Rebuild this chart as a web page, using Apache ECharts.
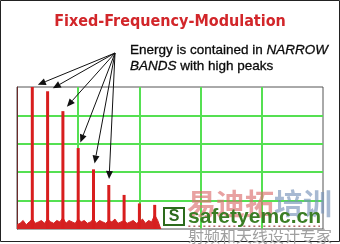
<!DOCTYPE html>
<html><head><meta charset="utf-8">
<script src="https://cdn.jsdelivr.net/npm/echarts@6/dist/echarts.min.js"></script>
<style>html,body{margin:0;padding:0;background:#fff}#c{width:340px;height:244px}</style>
</head><body><div id="c"></div>
<script>
// ---- data ----
const titleText = 'Fixed-Frequency-Modulation';
const noteLine1 = 'Energy is contained in {i|NARROW}';
const noteLine2 = '{i|BANDS} with high peaks';
const peakPositions = [5, 10, 15, 20, 25, 30, 35, 40, 45];
const peakLevels = [100, 97, 83, 57, 42, 31, 24, 18, 17];
const arrowedPeakCount = 6;
// noise floor, one value per x unit starting at 0
const noiseLevels = [3,4,6,3,5,7,4,5,6,4,7,5,4,6,5,8,4,6,5,4,7,5,6,4,5,7,4,6,5,4,6,5,7,4,5,6,4,5,6,4,5,7,4,6,5,10,6,0];
const tailNoise = [[56, 2], [99, 2]];
const watermarkBig = ['易迪拓', '培训'];
const watermarkSite = 'safetyemc.cn';
const watermarkSub = '射频和天线设计专家';

const chart = echarts.init(document.getElementById('c'), null, {renderer: 'canvas'});
const gridColor = '#55e052';
const axisCommon = {
  type: 'value', min: 0, max: 100, interval: 20,
  axisLabel: {show: false}, axisTick: {show: false},
  splitLine: {show: true, showMinLine: false, showMaxLine: false, lineStyle: {color: gridColor, width: 2}}
};
chart.setOption({
  animation: false,
  title: {
    text: titleText, left: 'center', top: 9,
    textStyle: {color: '#d2262a', fontSize: 16, fontWeight: 'bold', fontFamily: 'DejaVu Sans Condensed'}
  },
  grid: {left: 17, right: 17, top: 87, bottom: 15, show: true, borderColor: '#555', borderWidth: 1, backgroundColor: 'transparent'},
  xAxis: Object.assign({}, axisCommon, {axisLine: {show: false}}),
  yAxis: Object.assign({}, axisCommon, {axisLine: {show: true, lineStyle: {color: '#6b2a2a', width: 1}}}),
  series: [
    {
      type: 'line', data: noiseLevels.map((v, i) => [i, v]), symbol: 'none',
      lineStyle: {color: '#d42323', width: 1}, areaStyle: {color: '#d42323', opacity: 1}, z: 2
    },
    {
      type: 'line', data: tailNoise, symbol: 'none',
      lineStyle: {color: '#8b1a1a', width: 1, type: [2, 3]}, z: 2
    },
    {
      type: 'bar', data: peakPositions.map((x, i) => [x, peakLevels[i]]), barWidth: 3,
      itemStyle: {color: '#d81e1e'}, z: 3
    }
  ]
});

// arrows from annotation anchor to the first peaks
const origin = [115, 53];
const graphics = [];
for (let i = 0; i < arrowedPeakCount; i++) {
  const p = chart.convertToPixel({gridIndex: 0}, [peakPositions[i], peakLevels[i]]);
  const dx = origin[0] - p[0], dy = origin[1] - p[1];
  const len = Math.hypot(dx, dy);
  const ux = dx / len, uy = dy / len;
  const tip = [p[0] + ux * 6, p[1] + uy * 6];
  const base = [tip[0] + ux * 8, tip[1] + uy * 8];
  const nx = -uy, ny = ux;
  graphics.push({type: 'line', shape: {x1: origin[0], y1: origin[1], x2: base[0], y2: base[1]}, style: {stroke: '#111', lineWidth: 1}, z: 10});
  graphics.push({type: 'polygon', shape: {points: [tip, [base[0] + nx * 3.5, base[1] + ny * 3.5], [base[0] - nx * 3.5, base[1] - ny * 3.5]]}, style: {fill: '#111'}, z: 10});
}
const noteFont = {fontSize: 13.5, fontFamily: 'Liberation Sans', fill: '#0a0a0a', stroke: '#0a0a0a', lineWidth: 0.3};
graphics.push({type: 'text', x: 130, y: 50.5, z: 10, style: Object.assign({text: noteLine1, verticalAlign: 'middle', rich: {i: Object.assign({fontStyle: 'italic'}, noteFont)}}, noteFont)});
graphics.push({type: 'text', x: 130, y: 66.5, z: 10, style: Object.assign({text: noteLine2, verticalAlign: 'middle', rich: {i: Object.assign({fontStyle: 'italic'}, noteFont)}}, noteFont)});
// outer frame
graphics.push({type: 'rect', shape: {x: 0.5, y: 0.5, width: 339, height: 241}, style: {fill: 'none', stroke: '#222', lineWidth: 1}, z: 1});
// watermark
graphics.push({type: 'text', x: 187, y: 204, z: 20, style: {
  text: '{a|' + watermarkBig[0] + '}{b|' + watermarkBig[1] + '}', verticalAlign: 'middle',
  rich: {
    a: {fontSize: 29, fontWeight: 'bold', fontFamily: 'Noto Sans CJK SC', fill: 'rgba(220,110,110,0.65)'},
    b: {fontSize: 29, fontWeight: 'bold', fontFamily: 'Noto Sans CJK SC', fill: 'rgba(120,148,186,0.65)'}
  }
}});
graphics.push({type: 'rect', z: 21, shape: {x: 164, y: 208, width: 20, height: 17}, style: {fill: '#fff', stroke: '#2c6b1c', lineWidth: 2}});
graphics.push({type: 'text', z: 22, x: 174, y: 217, style: {text: 'S', align: 'center', verticalAlign: 'middle', fontSize: 16, fontWeight: 'bold', fontFamily: 'Liberation Sans', fill: '#2c6b1c'}});
graphics.push({type: 'text', z: 22, x: 188, y: 217, style: {text: watermarkSite, verticalAlign: 'middle', fontSize: 21, fontWeight: 'bold', fontFamily: 'Liberation Sans', fill: '#3a7d24'}});
graphics.push({type: 'text', z: 22, x: 188, y: 236, style: {text: watermarkSub, verticalAlign: 'middle', fontSize: 16, fontFamily: 'Noto Sans CJK SC', fill: '#a0a0a0'}});
chart.setOption({graphic: graphics});
</script>
</body></html>
